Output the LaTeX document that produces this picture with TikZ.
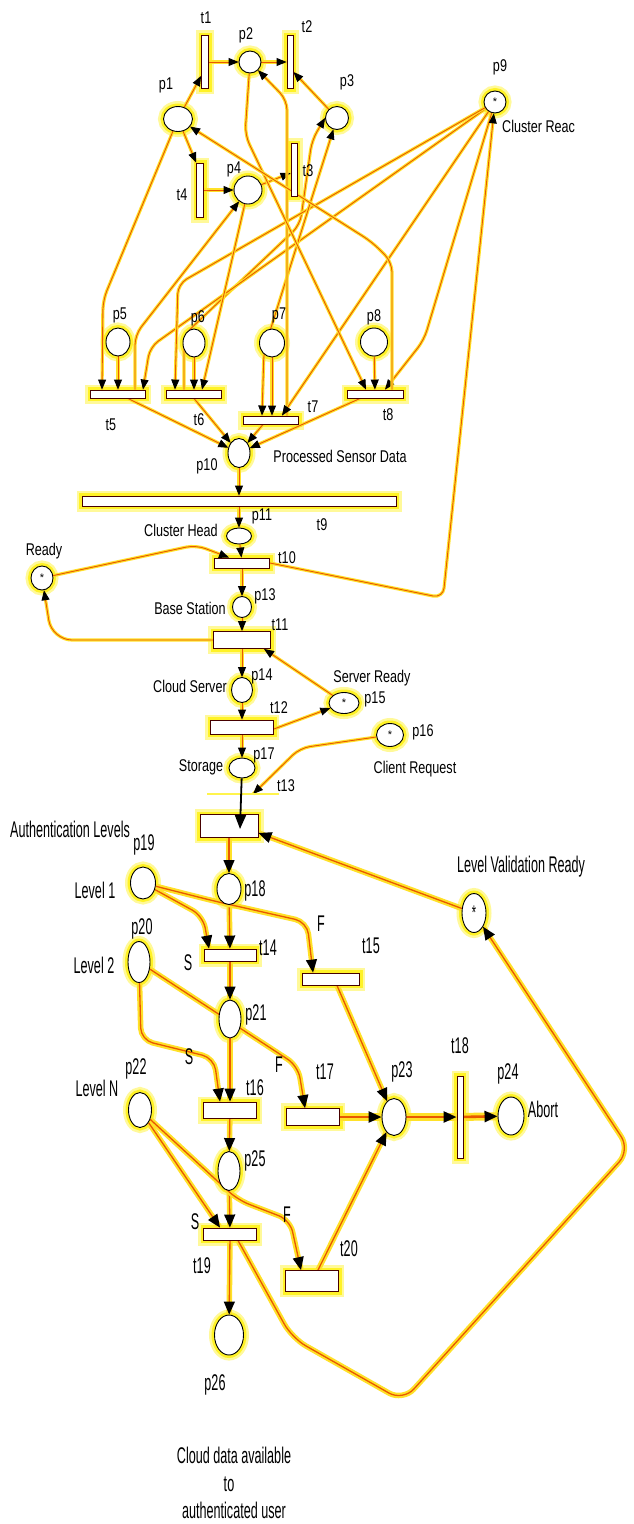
\documentclass[tikz,border=0pt]{standalone}
\usepackage{fontspec}
\setmainfont{Liberation Sans}
\usetikzlibrary{shapes.geometric,arrows.meta}
\pgfdeclarelayer{bg}
\pgfdeclarelayer{mid}
\pgfsetlayers{bg,mid,main}
\definecolor{glowc}{RGB}{255,240,0}
\definecolor{glowe}{RGB}{255,225,40}
\definecolor{arcc}{RGB}{232,88,0}
\definecolor{trb}{RGB}{70,0,0}
\newcommand\up[1]{\scalebox{1}[1.35]{#1}}
\newcommand\lo[1]{\scalebox{1}[1.8]{#1}}
\newcommand\mkpl[4]{\begin{pgfonlayer}{bg}\node[glw,ellipse,#3] (g#1) at (#2) {};\end{pgfonlayer}\node[plc,#3] (#1) at (#2) {#4};}
\newcommand\mktr[3]{\begin{pgfonlayer}{bg}\node[glw,rectangle,#3] (g#1) at (#2) {};\end{pgfonlayer}\node[trn,#3] (#1) at (#2) {};}
\begin{document}
\begin{tikzpicture}[x=1pt,y=-1pt,
  sz/.style 2 args={minimum width=#1pt,minimum height=#2pt},
  glw/.style={inner sep=0pt, fill=glowc, draw=glowc!40, line width=11pt, postaction={draw=glowc!85, line width=6pt}},
  plc/.style={ellipse, draw=black, line width=0.9pt, fill=white, inner sep=0pt, font=\fontsize{11}{11}\selectfont},
  trn/.style={rectangle, draw=trb, line width=0.9pt, fill=white, inner sep=0pt},
  lbl/.style={inner sep=0pt, font=\fontsize{12.6}{14}\selectfont},
  con/.style={draw=arcc, line width=0.9pt, rounded corners=10pt, preaction={draw=glowe, line width=3.2pt, arrows=-}, -{Triangle[length=10pt,width=8pt,color=black]}},
  conb/.style={con, {Triangle[length=10pt,width=8pt,color=black]}-{Triangle[length=10pt,width=8pt,color=black]}},
  conl/.style={draw=arcc, line width=1.3pt, rounded corners=12pt, preaction={draw=glowe, line width=5.5pt, arrows=-}, -{Triangle[length=13pt,width=11pt,color=black]}},
  thk/.style={conl, line width=2.6pt, preaction={draw=glowe, line width=8pt, arrows=-}}]
\useasboundingbox (0,0) rectangle (633,1524);
\begin{pgfonlayer}{bg}\fill[white] (0,0) rectangle (633,1524);\end{pgfonlayer}

% places
\mkpl{p1}{178,119}{sz={29}{25}}{}
\mkpl{p2}{250,62}{sz={22}{22}}{}
\mkpl{p3}{337,118}{sz={23}{23}}{}
\mkpl{p4}{248,190}{sz={28}{28}}{}
\mkpl{p9}{495,102}{sz={22}{22}}{*}
\mkpl{p5}{118,342}{sz={24}{28}}{}
\mkpl{p6}{194,343}{sz={22}{28}}{}
\mkpl{p7}{272,343}{sz={25}{28}}{}
\mkpl{p8}{374,342}{sz={27}{28}}{}
\mkpl{p10}{239,453}{sz={22}{29}}{}
\mkpl{p11}{239,536}{sz={25}{16}}{}
\mkpl{pr}{42,578}{sz={22}{24}}{*}
\mkpl{p13}{242,607}{sz={19}{21}}{}
\mkpl{p14}{242,690}{sz={21}{25}}{}
\mkpl{p15}{344,703}{sz={30}{21}}{*}
\mkpl{p16}{390,735}{sz={27}{23}}{*}
\mkpl{p17}{242,768}{sz={26}{20}}{}
\mkpl{plv}{474,913}{sz={24}{39}}{\lo{*}}
\mkpl{p19}{143,883}{sz={25}{32}}{}
\mkpl{p18}{229,889}{sz={24}{31}}{}
\mkpl{p20}{139,962}{sz={22}{41}}{}
\mkpl{p21}{230,1019}{sz={22}{38}}{}
\mkpl{p23}{394,1117}{sz={24}{37}}{}
\mkpl{p24}{511,1116}{sz={26}{38}}{}
\mkpl{p22}{140,1110}{sz={23}{35}}{}
\mkpl{p25}{229,1171}{sz={22}{39}}{}
\mkpl{p26}{229,1335}{sz={29}{40}}{}

% transitions
\mktr{t1}{205,62}{sz={7}{53}}
\mktr{t2}{290,62}{sz={6}{53}}
\mktr{t4}{200,190}{sz={7}{54}}
\mktr{t3}{294,170}{sz={6}{53}}
\mktr{t5}{118,394}{sz={55}{8}}
\mktr{t6}{194,394}{sz={55}{8}}
\mktr{t7}{271,420}{sz={55}{8}}
\mktr{t8}{375,394}{sz={56}{8}}
\mktr{t9}{239,501}{sz={314}{10}}
\mktr{t10}{242,563}{sz={55}{10}}
\mktr{t11}{242,640}{sz={57}{17}}
\mktr{t12}{242,727}{sz={63}{14}}
\mktr{ta}{229,826}{sz={58}{23}}
\mktr{t14}{230,955}{sz={52}{12}}
\mktr{t15}{331,979}{sz={57}{12}}
\mktr{t16}{230,1110}{sz={53}{16}}
\mktr{t17}{313,1117}{sz={53}{17}}
\mktr{t18}{460,1117}{sz={6}{82}}
\mktr{t19}{230,1234}{sz={53}{12}}
\mktr{t20}{312,1281}{sz={53}{21}}
\node[fill=glowc!70, inner sep=0pt, sz={72}{2}] (t13) at (243,794) {};
\coordinate (bt) at (240,829);

% connectors
\begin{pgfonlayer}{mid}
\draw[con] (p1) -- ([yshift=-14pt]t1.west);
\draw[con] (t1) -- (p2);
\draw[con] (p2) -- (t2);
\draw[con] (p3) -- ([yshift=-10pt]t2.east);
\draw[con] (p1) -- (t4.north west);
\draw[con] (t4) -- (p4);
\draw[con] (p4) -- ([yshift=-3pt]t3.west);
\draw[con] ([xshift=-10pt]t6.north) -- (184,335) -- (300,225) -- (312,140) -- (p3.west);
\draw[con] (p1) -- (103,300) -- ([xshift=-16pt]t5.north);
\draw[con] (p5) -- (t5);
\draw[con] (p9) -- (150,347) -- ([xshift=25pt]t5.north);
\draw[con] ([xshift=17pt]t5.north) -- (135,335) -- (p4);
\draw[con] (p9) -- (178,284) -- ([xshift=-19pt]t6.north);
\draw[con] (p6) -- (t6);
\draw[con] (p4) -- ([xshift=8pt]t6.north);
\draw[con] (p7) -- ([xshift=1pt]t7.north);
\draw[conb] ([xshift=-9pt]t7.north) -- (264,350) -- (p3);
\draw[con] ([xshift=16pt]t7.north) -- (287,100) -- (p2);
\draw[con] (p9) -- ([xshift=11pt]t7.north);
\draw[con] (p2) -- (245,135) -- ([xshift=-9pt]t8.north);
\draw[con] (p8) -- (t8);
\draw[con] (p9) -- (424,340) -- ([xshift=10pt]t8.north);
\draw[con] ([xshift=17pt]t8.north) -- (392,262) -- (372,242) -- (p1);
\draw[con] (t10.east) -- (443,598) -- (p9);
\draw[con] ([xshift=10pt]t5.south) -- (p10);
\draw[con] (t6.south) -- (p10);
\draw[con] ([xshift=-8pt]t7.south) -- (p10);
\draw[con] ([xshift=-15pt]t8.south) -- (p10);
\draw[con] (p10) -- (t9);
\draw[con] (t9) -- (p11);
\draw[con] (p11) -- (t10);
\draw[con] (pr) -- (196,545) -- ([xshift=-13pt]t10.north);
\draw[con] (t10) -- (p13);
\draw[con] (p13) -- (t11);
\draw[con, rounded corners=20pt] (t11.west) -- (52,640) -- (pr);
\draw[con] (t11) -- (p14);
\draw[con] (p15) -- ([xshift=22pt]t11.south);
\draw[con] (p14) -- (t12);
\draw[con] ([yshift=-2pt]t12.east) -- (p15);
\draw[con] (t12) -- (p17);
\draw[con] (p16) -- (300,748) -- ([xshift=10pt]t13.center);
% lower part
\draw[conl] (ta) -- (p18);
\draw[conl] (plv) -- ([yshift=-7pt]ta.east);
\draw[conl] (p18) -- (t14);
\draw[conl] (p19) -- (203,916) -- ([xshift=-21pt]t14.north);
\draw[conl] (p19) -- (214,901) -- (307,922) -- ([xshift=-18pt]t15.north);
\draw[conl] (t14) -- (p21);
\draw[conl] (p20) -- (141,1040) -- (214,1058) -- ([xshift=-10pt]t16.north);
\draw[conl] (p20) -- (298,1066) -- ([xshift=-8pt]t17.north);
\draw[conl] (p21) -- (t16);
\draw[conl] ([xshift=6pt]t15.south) -- (p23);
\draw[conl] (t16) -- (p25);
\draw[thk] (t17) -- (p23);
\draw[thk] (p23) -- (t18);
\draw[thk] (t18) -- (p24);
\draw[conl] (p25) -- (t19);
\draw[conl] (p22) -- ([xshift=-10pt]t19.north);
\draw[conl] (p22) -- (238,1200) -- (290,1220) -- ([xshift=-11pt]t20.north);
\draw[conl] ([xshift=6pt]t20.north) -- (p23);
\draw[conl] (t19) -- (p26);
\draw[conl, rounded corners=16pt] ([xshift=8pt]t19.south) -- (292,1338) -- (403,1401) -- (630,1150) -- (plv);
\end{pgfonlayer}
\draw[line width=1.8pt, -{Triangle[length=14pt,width=11pt]}] (p17) -- (bt);

% labels
\node[lbl] (lt1) at (206,18) {\up{t1}};
\node[lbl] (lp2) at (246,35) {\up{p2}};
\node[lbl] (lt2) at (307,27) {\up{t2}};
\node[lbl] (lp1) at (166,85) {\up{p1}};
\node[lbl] (lp3) at (347,82) {\up{p3}};
\node[lbl] (lp4) at (234,169) {\up{p4}};
\node[lbl] (lt3) at (308,171) {\up{t3}};
\node[lbl] (lt4) at (182,195) {\up{t4}};
\node[lbl] (lp9) at (500,67) {\up{p9}};
\node[lbl, anchor=west] (lcr) at (502,126) {\up{Cluster Reac}};
\node[lbl] (lp5) at (120,315) {\up{p5}};
\node[lbl] (lp6) at (198,318) {\up{p6}};
\node[lbl] (lp7) at (279,315) {\up{p7}};
\node[lbl] (lp8) at (374,317) {\up{p8}};
\node[lbl] (lt5) at (111,425) {\up{t5}};
\node[lbl] (lt6) at (199,420) {\up{t6}};
\node[lbl] (lt7) at (313,407) {\up{t7}};
\node[lbl] (lt8) at (388,415) {\up{t8}};
\node[lbl] (lp10) at (207,466) {\up{p10}};
\node[lbl] (lpsd) at (340,456) {\up{Processed Sensor Data}};
\node[lbl] (lt9) at (322,525) {\up{t9}};
\node[lbl] (lp11) at (262,516) {\up{p11}};
\node[lbl] (lch) at (181,530) {\up{Cluster Head}};
\node[lbl] (lt10) at (287,558) {\up{t10}};
\node[lbl] (lrd) at (44,551) {\up{Ready}};
\node[lbl] (lp13) at (265,596) {\up{p13}};
\node[lbl] (lbs) at (190,608) {\up{Base Station}};
\node[lbl] (lt11) at (280,625) {\up{t11}};
\node[lbl] (lp14) at (262,676) {\up{p14}};
\node[lbl] (lcs) at (190,686) {\up{Cloud Server}};
\node[lbl] (lsr) at (372,678) {\up{Server Ready}};
\node[lbl] (lp15) at (375,699) {\up{p15}};
\node[lbl] (lt12) at (279,708) {\up{t12}};
\node[lbl] (lp16) at (423,732) {\up{p16}};
\node[lbl] (lcq) at (415,769) {\up{Client Request}};
\node[lbl] (lp17) at (264,755) {\up{p17}};
\node[lbl] (lst) at (201,767) {\up{Storage}};
\node[lbl] (lt13) at (286,786) {\up{t13}};
\node[lbl] (lal) at (70,829) {\lo{Authentication Levels}};
\node[lbl] (llv) at (521,867) {\lo{Level Validation Ready}};
\node[lbl] (lp19) at (144,845) {\lo{p19}};
\node[lbl] (ll1) at (95,890) {\lo{Level 1}};
\node[lbl] (lp18) at (255,891) {\lo{p18}};
\node[lbl] (ls1) at (188,963) {\lo{S}};
\node[lbl] (lt14) at (268,948) {\lo{t14}};
\node[lbl] (lp20) at (142,929) {\lo{p20}};
\node[lbl] (ll2) at (94,965) {\lo{Level 2}};
\node[lbl] (lf1) at (321,924) {\lo{F}};
\node[lbl] (lt15) at (371,946) {\lo{t15}};
\node[lbl] (lp21) at (256,1015) {\lo{p21}};
\node[lbl] (ls2) at (189,1057) {\lo{S}};
\node[lbl] (lf2) at (279,1065) {\lo{F}};
\node[lbl] (lt17) at (325,1072) {\lo{t17}};
\node[lbl] (lt16) at (255,1088) {\lo{t16}};
\node[lbl] (lln) at (97,1088) {\lo{Level N}};
\node[lbl] (lp22) at (136,1069) {\lo{p22}};
\node[lbl] (lp23) at (402,1072) {\lo{p23}};
\node[lbl] (lt18) at (460,1046) {\lo{t18}};
\node[lbl] (lp24) at (508,1074) {\lo{p24}};
\node[lbl] (lab) at (543,1109) {\lo{Abort}};
\node[lbl] (lp25) at (255,1161) {\lo{p25}};
\node[lbl] (ls3) at (195,1222) {\lo{S}};
\node[lbl] (lf3) at (287,1215) {\lo{F}};
\node[lbl] (lt20) at (349,1249) {\lo{t20}};
\node[lbl] (lt19) at (202,1266) {\lo{t19}};
\node[lbl] (lp26) at (215,1385) {\lo{p26}};
\node[lbl] (lc1) at (234,1455) {\lo{Cloud data available}};
\node[lbl] (lc2) at (229,1484) {\lo{to}};
\node[lbl] (lc3) at (234,1510) {\lo{authenticated user}};
\end{tikzpicture}
\end{document}
